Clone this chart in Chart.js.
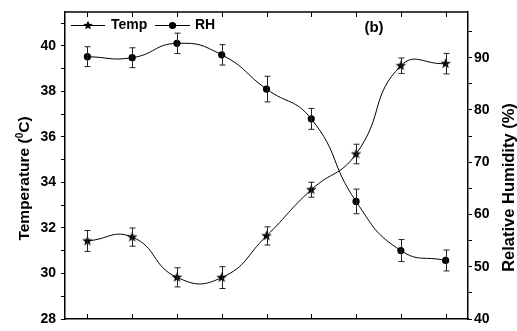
<!DOCTYPE html>
<html>
<head>
<meta charset="utf-8">
<script src="https://cdn.jsdelivr.net/npm/chart.js@4.4.1/dist/chart.umd.min.js"></script>
<style>
html,body{margin:0;padding:0;background:#fff;}
#wrap{width:517px;height:331px;position:relative;}
</style>
</head>
<body>
<div id="wrap"><canvas id="c" width="517" height="331"></canvas></div>
<script>
// ---- data ----
const categories = [1, 2, 3, 4, 5, 6, 7, 8, 9];
const tempValues = [31.43, 31.6, 29.83, 29.82, 31.65, 33.68, 35.25, 39.13, 39.22];
const tempErrors = [0.46, 0.4, 0.42, 0.48, 0.4, 0.33, 0.43, 0.34, 0.45];
const rhValues = [90.2, 90.0, 92.75, 90.55, 84.0, 78.3, 62.5, 53.1, 51.2];
const rhErrors = [1.9, 1.9, 1.95, 1.95, 2.45, 2.0, 2.36, 2.1, 2.0];
const tempTickLabels = [28, 30, 32, 34, 36, 38, 40];
const rhTickLabels = [40, 50, 60, 70, 80, 90];
const seriesNames = ['Temp', 'RH'];

const FONT = "'Liberation Sans', Arial, Helvetica, sans-serif";
Chart.defaults.font.family = FONT;
Chart.defaults.font.weight = 'bold';
Chart.defaults.color = '#000';

function drawStar(g, cx, cy, outer, inner) {
  g.beginPath();
  for (let i = 0; i < 10; i++) {
    const r = i % 2 === 0 ? outer : inner;
    const a = -Math.PI / 2 + i * Math.PI / 5;
    const x = cx + r * Math.cos(a), y = cy + r * Math.sin(a);
    if (i === 0) g.moveTo(x, y); else g.lineTo(x, y);
  }
  g.closePath();
  g.fill();
}
function makeStar(size, outer, inner) {
  const c = document.createElement('canvas');
  c.width = size; c.height = size;
  const g = c.getContext('2d');
  g.fillStyle = '#000';
  drawStar(g, size / 2, size / 2, outer, inner);
  return c;
}
const starImg = makeStar(13, 5.6, 2.3);

const tempData = categories.map((x, i) => ({x: x, y: tempValues[i], e: tempErrors[i]}));
const rhData = categories.map((x, i) => ({x: x, y: rhValues[i], e: rhErrors[i]}));

const extras = {
  id: 'extras',
  afterDatasetsDraw(chart) {
    const ctx = chart.ctx;
    const xs = chart.scales.x;
    ctx.save();
    ctx.strokeStyle = '#222';
    ctx.lineWidth = 1;
    chart.data.datasets.forEach((ds) => {
      const ys = chart.scales[ds.yAxisID];
      ds.data.forEach((p) => {
        const px = Math.round(xs.getPixelForValue(p.x)) + 0.5;
        const y1 = ys.getPixelForValue(p.y + p.e);
        const y2 = ys.getPixelForValue(p.y - p.e);
        ctx.beginPath();
        ctx.moveTo(px, y1); ctx.lineTo(px, y2);
        ctx.moveTo(px - 3, y1); ctx.lineTo(px + 3, y1);
        ctx.moveTo(px - 3, y2); ctx.lineTo(px + 3, y2);
        ctx.stroke();
      });
    });
    ctx.restore();
  },
  afterDraw(chart) {
    const ctx = chart.ctx;
    const a = chart.chartArea;
    const xs = chart.scales.x;
    ctx.save();
    ctx.strokeStyle = '#000';
    // top border
    ctx.lineWidth = 1.5;
    ctx.beginPath(); ctx.moveTo(a.left, a.top); ctx.lineTo(a.right, a.top); ctx.stroke();
    // inward x ticks at top and bottom
    ctx.lineWidth = 1;
    categories.forEach((c) => {
      const px = Math.round(xs.getPixelForValue(c)) + 0.5;
      ctx.beginPath();
      ctx.moveTo(px, a.bottom); ctx.lineTo(px, a.bottom - 5);
      ctx.moveTo(px, a.top); ctx.lineTo(px, a.top + 5);
      ctx.stroke();
    });
    // legend
    ctx.fillStyle = '#000';
    ctx.lineWidth = 1;
    const ly = 25.5;
    const legendFont = 'bold 14px ' + FONT;
    ctx.beginPath(); ctx.moveTo(71, ly); ctx.lineTo(105, ly); ctx.stroke();
    drawStar(ctx, 88, ly, 5, 2.1);
    ctx.font = legendFont; ctx.textAlign = 'left'; ctx.textBaseline = 'middle';
    ctx.fillText(seriesNames[0], 111, ly);
    ctx.beginPath(); ctx.moveTo(155, ly); ctx.lineTo(190, ly); ctx.stroke();
    ctx.beginPath(); ctx.arc(172.5, ly, 3.6, 0, Math.PI * 2); ctx.fill();
    ctx.fillText(seriesNames[1], 195, ly);
    // panel label
    ctx.font = 'bold 15px ' + FONT;
    ctx.textAlign = 'center';
    ctx.textBaseline = 'middle';
    ctx.fillText('(b)', 374, 28);
    // left axis title with superscript
    ctx.save();
    ctx.translate(29, 178.5);
    ctx.rotate(-Math.PI / 2);
    ctx.textBaseline = 'alphabetic';
    ctx.textAlign = 'left';
    const big = 'bold 15.5px ' + FONT, small = 'bold 10px ' + FONT;
    ctx.font = big; const w1 = ctx.measureText('Temperature (').width;
    ctx.font = small; const w2 = ctx.measureText('0').width;
    ctx.font = big; const w3 = ctx.measureText('C)').width;
    let x0 = -(w1 + w2 + w3) / 2;
    ctx.font = big; ctx.fillText('Temperature (', x0, 0);
    ctx.font = small; ctx.fillText('0', x0 + w1, -6);
    ctx.font = big; ctx.fillText('C)', x0 + w1 + w2, 0);
    ctx.restore();
    // right axis title
    ctx.save();
    ctx.translate(514, 187.5);
    ctx.rotate(-Math.PI / 2);
    ctx.textAlign = 'center';
    ctx.textBaseline = 'alphabetic';
    ctx.font = 'bold 16.5px ' + FONT;
    ctx.fillText('Relative Humidity (%)', 0, 0);
    ctx.restore();
    ctx.restore();
  }
};

new Chart(document.getElementById('c'), {
  type: 'line',
  data: {
    datasets: [
      {
        label: seriesNames[0], data: tempData, yAxisID: 'y',
        borderColor: '#000', borderWidth: 1, backgroundColor: '#000',
        pointStyle: starImg, pointRadius: 5, tension: 0.5, fill: false
      },
      {
        label: seriesNames[1], data: rhData, yAxisID: 'y2',
        borderColor: '#000', borderWidth: 1, backgroundColor: '#000',
        pointStyle: 'circle', pointRadius: 3.6, pointBorderWidth: 0, tension: 0.5, fill: false
      }
    ]
  },
  options: {
    responsive: false,
    animation: false,
    events: [],
    layout: {padding: {top: 12, left: 0, right: 0, bottom: 0}},
    plugins: {
      tooltip: {enabled: false},
      legend: {display: false}
    },
    scales: {
      x: {
        type: 'linear', position: 'bottom',
        min: 0.5, max: 9.5,
        grid: {display: false},
        ticks: {display: false},
        border: {display: true, color: '#000', width: 1.5},
        afterFit(s) { s.height = 8; }
      },
      y: {
        type: 'linear', position: 'left',
        min: 28, max: 41.49,
        grid: {display: true, drawOnChartArea: false, drawTicks: true, tickLength: 4, color: '#000', tickColor: '#000', lineWidth: 1},
        border: {display: true, color: '#000', width: 1.5},
        ticks: {
          stepSize: 1, includeBounds: false, padding: 5,
          font: {size: 14, weight: 'bold', lineHeight: 1},
          color: '#000',
          callback: (v) => tempTickLabels.includes(v) ? String(v) : ''
        },
        afterFit(s) { s.width = 65; }
      },
      y2: {
        type: 'linear', position: 'right',
        min: 40, max: 98.75,
        grid: {display: true, drawOnChartArea: false, drawTicks: true, tickLength: 4, color: '#000', tickColor: '#000', lineWidth: 1},
        border: {display: true, color: '#000', width: 1.5},
        ticks: {
          stepSize: 5, includeBounds: false, padding: 2,
          font: {size: 14, weight: 'bold', lineHeight: 1},
          color: '#000',
          callback: (v) => rhTickLabels.includes(v) ? String(v) : ''
        },
        afterFit(s) { s.width = 49; }
      }
    }
  },
  plugins: [extras]
});
</script>
</body>
</html>
